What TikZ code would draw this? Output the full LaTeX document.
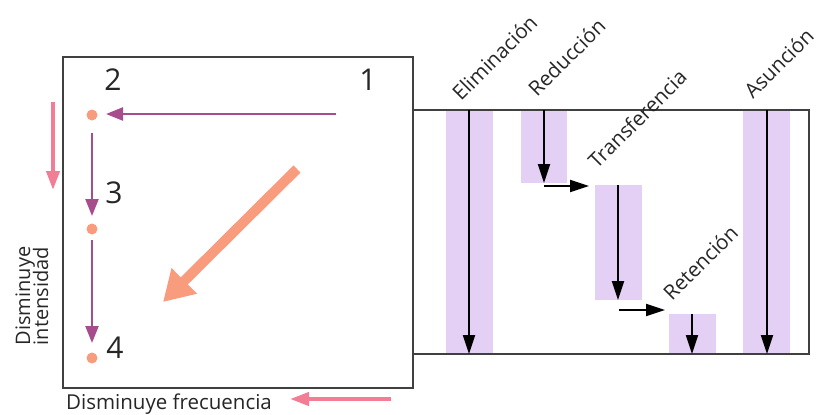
\documentclass[tikz,border=0pt]{standalone}
\usepackage{fontspec}
\setmainfont{Open Sans}
\usetikzlibrary{arrows.meta}
\definecolor{plum}{HTML}{A64D8E}
\definecolor{salmon}{HTML}{F99B7D}
\definecolor{pinkc}{HTML}{F27D95}
\definecolor{lav}{HTML}{E4D0F4}
\begin{document}
\begin{tikzpicture}[x=1pt,y=-1pt,
  frame/.style={draw=black!75,line width=1.1pt},
  blk/.style={black,line width=2.2pt,-{Triangle[length=19pt,width=12pt]}},
  plumarr/.style={plum,line width=2.4pt,-{Triangle[length=17pt,width=13pt]}},
  pinkarr/.style={pinkc,line width=4pt,-{Triangle[length=19pt,width=13pt]}},
  dotn/.style={circle,fill=salmon,inner sep=0pt,minimum size=11pt},
  num/.style={font=\fontsize{30}{32}\selectfont,text=black!85,inner sep=0pt},
  lbl/.style={font=\fontsize{20.5}{22}\selectfont,text=black!85,rotate=45,anchor=base west,inner sep=0pt}]
\useasboundingbox (0,0) rectangle (817,415);
% purple bars
\fill[lav] (446,110) rectangle (493,354);
\fill[lav] (521,110) rectangle (567,183);
\fill[lav] (595,185) rectangle (642,300);
\fill[lav] (669,314) rectangle (716,354);
\fill[lav] (743,110) rectangle (790,354);
% frames
\draw[frame] (63,57) rectangle (413,388);
\draw[frame] (413,110) rectangle (809,354);
% black arrows
\coordinate (e1) at (469,110); \coordinate (e2) at (469,354);
\coordinate (r1) at (544,110); \coordinate (r2) at (544,183);
\coordinate (h1) at (544,186); \coordinate (h2) at (589,186);
\coordinate (t1) at (618,185); \coordinate (t2) at (618,300);
\coordinate (g1) at (619,310); \coordinate (g2) at (665,310);
\coordinate (n1) at (692,314); \coordinate (n2) at (692,354);
\coordinate (a1) at (767,110); \coordinate (a2) at (767,354);
\draw[blk] (e1) -- (e2);
\draw[blk] (r1) -- (r2);
\draw[blk] (h1) -- (h2);
\draw[blk] (t1) -- (t2);
\draw[blk] (g1) -- (g2);
\draw[blk] (n1) -- (n2);
\draw[blk] (a1) -- (a2);
% rotated labels
\node[lbl] (lE) at (461,102) {Eliminación};
\node[lbl] (lR) at (537,98) {Reducción};
\node[lbl] (lT) at (597,170) {Transferencia};
\node[lbl] (lN) at (672,302) {Retención};
\node[lbl] (lA) at (753,100) {Asunción};
% left box
\node[num] (n1l) at (368,80) {1};
\node[num] (n2l) at (113,80) {2};
\node[num] (n3l) at (114,193) {3};
\node[num] (n4l) at (115,348) {4};
\node[dotn] (d2) at (92,115) {};
\node[dotn] (d3) at (92,229) {};
\node[dotn] (d4) at (92,358) {};
\coordinate (s1) at (336,114);
\coordinate (s2) at (106,114);
\draw[plumarr] (s1) -- (s2);
\coordinate (v1) at (92,133); \coordinate (v2) at (92,216);
\coordinate (v3) at (92,240); \coordinate (v4) at (92,343);
\draw[plumarr] (v1) -- (v2);
\draw[plumarr] (v3) -- (v4);
\coordinate (b1) at (297,169); \coordinate (b2) at (163,302);
\draw[salmon,line width=10pt,-{Triangle[length=30pt,width=34pt]}] (b1) -- (b2);
\coordinate (p1) at (53,102); \coordinate (p2) at (53,190);
\draw[pinkarr] (p1) -- (p2);
\coordinate (q1) at (391,399); \coordinate (q2) at (290,399);
\draw[pinkarr] (q1) -- (q2);
\node[font=\fontsize{20.5}{22}\selectfont,text=black!85,anchor=west,inner sep=0pt] (fx) at (66,404) {Disminuye frecuencia};
\node[font=\fontsize{20}{22}\selectfont,text=black!85,align=center,rotate=90,inner sep=0pt] (fy) at (32,296) {Disminuye\\[-4pt]intensidad};
\end{tikzpicture}
\end{document}
